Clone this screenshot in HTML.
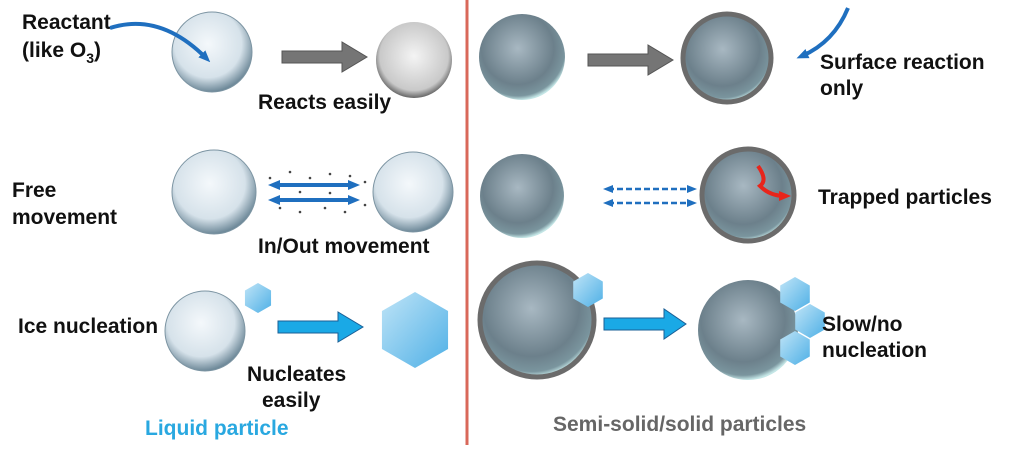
<!DOCTYPE html><html><head><style>body{margin:0;background:#fff}svg{display:block}text{font-family:"Liberation Sans",sans-serif;font-weight:bold;font-size:21px;fill:#111}</style></head><body>
<svg width="1024" height="452" viewBox="0 0 1024 452">
<defs>
<radialGradient id="lq" cx="0.45" cy="0.4" r="0.6"><stop offset="0" stop-color="#f4f8fb"/><stop offset="0.7" stop-color="#d6e2ea"/><stop offset="1" stop-color="#6d8898"/></radialGradient>
<radialGradient id="gl" cx="0.5" cy="0.45" r="0.6"><stop offset="0" stop-color="#f4f4f4"/><stop offset="0.75" stop-color="#c9c9c9"/><stop offset="1" stop-color="#333"/></radialGradient>
<radialGradient id="so" cx="0.45" cy="0.4" r="0.6"><stop offset="0" stop-color="#a8b8c2"/><stop offset="0.7" stop-color="#6c808b"/><stop offset="0.92" stop-color="#7a959e"/><stop offset="1" stop-color="#c4e6e6"/></radialGradient>
<linearGradient id="hx" x1="0" y1="0" x2="1" y2="1"><stop offset="0" stop-color="#bfe4f7"/><stop offset="1" stop-color="#4fb0e6"/></linearGradient>
<marker id="bh" markerUnits="userSpaceOnUse" markerWidth="12" markerHeight="12" refX="6" refY="6" orient="auto"><path d="M0,1L12,6L0,11z" fill="#1f6fbf"/></marker>
<marker id="bt" markerUnits="userSpaceOnUse" markerWidth="12" markerHeight="12" refX="6" refY="6" orient="auto-start-reverse"><path d="M0,1L12,6L0,11z" fill="#1f6fbf"/></marker>
<marker id="sh" markerUnits="userSpaceOnUse" markerWidth="10" markerHeight="10" refX="5" refY="5" orient="auto"><path d="M0,1L10,5L0,9z" fill="#1f6fbf"/></marker>
<marker id="st" markerUnits="userSpaceOnUse" markerWidth="10" markerHeight="10" refX="5" refY="5" orient="auto-start-reverse"><path d="M0,1L10,5L0,9z" fill="#1f6fbf"/></marker>
<marker id="rh" markerUnits="userSpaceOnUse" markerWidth="12" markerHeight="12" refX="6" refY="6" orient="auto"><path d="M0,1L12,6L0,11z" fill="#e8251b"/></marker>
<symbol id="hex" viewBox="-1 -1 2 2"><polygon points="0,-1 0.87,-0.5 0.87,0.5 0,1 -0.87,0.5 -0.87,-0.5" fill="url(#hx)"/></symbol>
</defs>
<line x1="467" y1="0" x2="467" y2="445" stroke="#d9685a" stroke-width="3"/>
<!-- row1 left -->
<text x="22" y="29">Reactant</text><text x="22" y="57">(like O<tspan dy="6" style="font-size:14px">3</tspan><tspan dy="-6">)</tspan></text>
<circle cx="212" cy="52" r="40" fill="url(#lq)" stroke="#7d95a3"/>
<path d="M110,28 Q160,12 206,58" fill="none" stroke="#1f6fbf" stroke-width="4" marker-end="url(#bh)"/>
<path d="M282,51h60v-9l25,15l-25,15v-9h-60z" fill="#757575" stroke="#555"/>
<circle cx="414" cy="60" r="38" fill="url(#gl)"/>
<text x="258" y="109">Reacts easily</text>
<!-- row1 right -->
<circle cx="522" cy="57" r="43" fill="url(#so)"/>
<path d="M588,54h60v-9l25,15l-25,15v-9h-60z" fill="#757575" stroke="#555"/>
<circle cx="727" cy="58" r="44" fill="url(#so)" stroke="#6b6b6b" stroke-width="5"/>
<path d="M848,8 Q834,42 802,56" fill="none" stroke="#1f6fbf" stroke-width="4" marker-end="url(#bh)"/>
<text x="820" y="69">Surface reaction</text><text x="820" y="95">only</text>
<!-- row2 left -->
<text x="12" y="197">Free</text><text x="12" y="224">movement</text>
<circle cx="214" cy="192" r="42" fill="url(#lq)" stroke="#7d95a3"/>
<circle cx="413" cy="192" r="40" fill="url(#lq)" stroke="#7d95a3"/>
<line x1="274" y1="185" x2="354" y2="185" stroke="#1f6fbf" stroke-width="4" marker-start="url(#bt)" marker-end="url(#bh)"/>
<line x1="274" y1="200" x2="354" y2="200" stroke="#1f6fbf" stroke-width="4" marker-start="url(#bt)" marker-end="url(#bh)"/>
<g fill="#444"><circle cx="270" cy="178" r="1.3"/><circle cx="290" cy="172" r="1.3"/><circle cx="310" cy="178" r="1.3"/><circle cx="330" cy="174" r="1.3"/><circle cx="350" cy="176" r="1.3"/><circle cx="280" cy="208" r="1.3"/><circle cx="300" cy="212" r="1.3"/><circle cx="325" cy="208" r="1.3"/><circle cx="345" cy="212" r="1.3"/><circle cx="365" cy="205" r="1.3"/><circle cx="365" cy="182" r="1.3"/><circle cx="300" cy="192" r="1.3"/><circle cx="330" cy="193" r="1.3"/></g>
<text x="258" y="253">In/Out movement</text>
<!-- row2 right -->
<circle cx="522" cy="196" r="42" fill="url(#so)"/>
<line x1="608" y1="189" x2="692" y2="189" stroke="#1f6fbf" stroke-width="2.5" stroke-dasharray="6,3" marker-start="url(#st)" marker-end="url(#sh)"/>
<line x1="608" y1="203" x2="692" y2="203" stroke="#1f6fbf" stroke-width="2.5" stroke-dasharray="6,3" marker-start="url(#st)" marker-end="url(#sh)"/>
<circle cx="748" cy="195" r="46" fill="url(#so)" stroke="#6b6b6b" stroke-width="5"/>
<path d="M758,166 Q768,180 760,186 Q770,196 785,196" fill="none" stroke="#e8251b" stroke-width="4" marker-end="url(#rh)"/>
<text x="818" y="204">Trapped particles</text>
<!-- row3 left -->
<text x="18" y="333">Ice nucleation</text>
<circle cx="205" cy="331" r="40" fill="url(#lq)" stroke="#7d95a3"/>
<use href="#hex" x="243" y="283" width="30" height="30"/>
<path d="M278,321h60v-9l25,15l-25,15v-9h-60z" fill="#1aa9e6" stroke="#1a5f96"/>
<use href="#hex" x="377" y="292" width="76" height="76"/>
<text x="247" y="381">Nucleates</text><text x="262" y="407">easily</text>
<text x="145" y="435" style="fill:#29a8e0">Liquid particle</text>
<!-- row3 right -->
<circle cx="537" cy="320" r="57" fill="url(#so)" stroke="#6b6b6b" stroke-width="5"/>
<use href="#hex" x="571" y="273" width="34" height="34"/>
<path d="M604,318h60v-9l22,15l-22,15v-9h-60z" fill="#1aa9e6" stroke="#1a5f96"/>
<circle cx="748" cy="330" r="50" fill="url(#so)"/>
<use href="#hex" x="778" y="277" width="34" height="34"/>
<use href="#hex" x="793" y="304" width="34" height="34"/>
<use href="#hex" x="778" y="331" width="34" height="34"/>
<text x="822" y="331">Slow/no</text><text x="822" y="357">nucleation</text>
<text x="553" y="431" style="fill:#666">Semi-solid/solid particles</text>
</svg></body></html>
